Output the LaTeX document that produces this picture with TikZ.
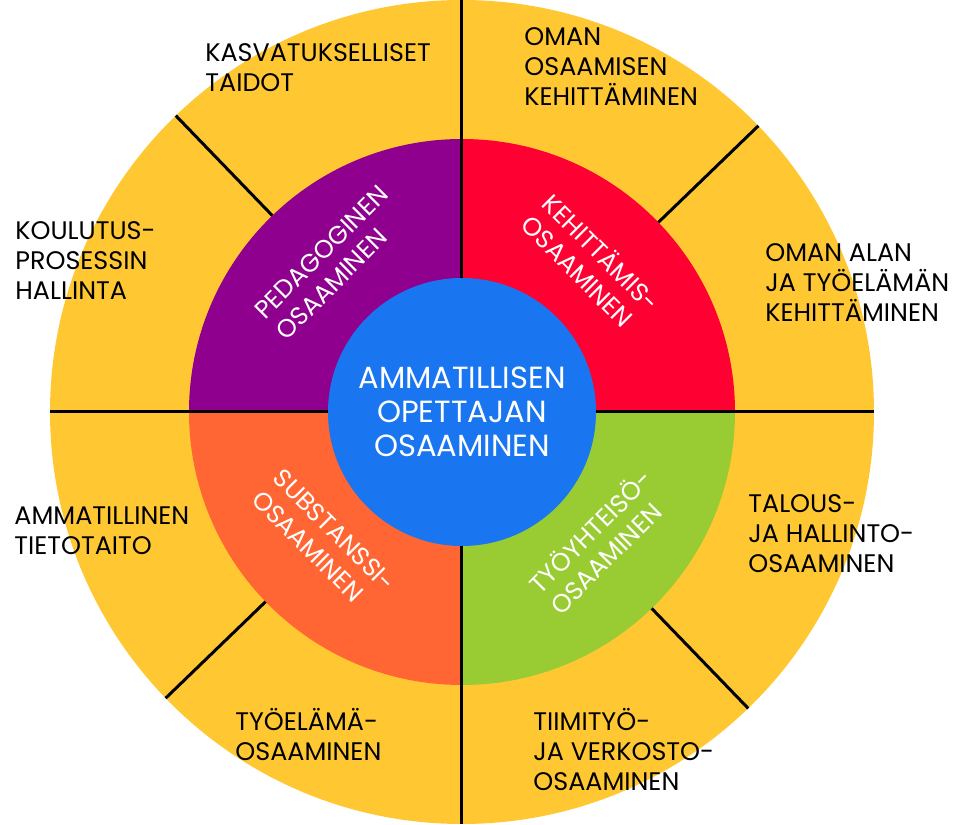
\documentclass[tikz,border=0pt]{standalone}
\usepackage{fontspec}
\setmainfont{Poppins}
\definecolor{keltainen}{RGB}{255,200,50}
\definecolor{violetti}{RGB}{143,0,143}
\definecolor{punainen}{RGB}{255,0,51}
\definecolor{oranssi}{RGB}{255,102,51}
\definecolor{vihrea}{RGB}{153,204,51}
\definecolor{sininen}{RGB}{25,118,240}
\tikzset{
    OUT/.style ={anchor=base west, align=left, inner sep=0pt, font=\fontsize{12.7}{15}\selectfont},
    MID/.style ={align=left, inner sep=0pt, text=white, font=\fontsize{12.6}{15}\selectfont},
    INN/.style ={circle, minimum size=134pt, inner sep=0pt, fill=sininen, text=white, align=center, font=\fontsize{15.3}{17}\selectfont},
    SEP/.style ={line width=1.5pt}}

\begin{document}
\begin{tikzpicture}[x=0.5pt,y=0.5pt]
        \useasboundingbox (-462,-413) rectangle (498,412);
        % outer ring and quarters
        \fill[keltainen] (0,0) circle (412);
        \fill[violetti] (0,0) -- (90:273) arc (90:180:273) -- cycle;
        \fill[oranssi] (0,0) -- (180:273) arc (180:270:273) -- cycle;
        \fill[vihrea] (0,0) -- (270:273) arc (270:360:273) -- cycle;
        \fill[punainen] (0,0) -- (0:273) arc (0:90:273) -- cycle;
        % dividing lines
        \coordinate (W) at (180:412);
        \coordinate (E) at (0:412);
        \coordinate (N) at (90:412);
        \coordinate (S) at (270:412);
        \coordinate (a1) at (134:273); \coordinate (a2) at (134:412);
        \coordinate (b1) at (44:273);  \coordinate (b2) at (44:412);
        \coordinate (c1) at (224:273); \coordinate (c2) at (224:412);
        \coordinate (d1) at (314:273); \coordinate (d2) at (314:412);
        \draw[SEP] (W) -- (E);
        \draw[SEP] (N) -- (S);
        \draw[SEP] (a1) -- (a2);
        \draw[SEP] (b1) -- (b2);
        \draw[SEP] (c1) -- (c2);
        \draw[SEP] (d1) -- (d2);
        % centre
        \node[INN] (keski) at (0,0) {AMMATILLISEN\\OPETTAJAN\\OSAAMINEN};
        % ring labels
        \node[MID, rotate=45] (ped) at (131:198) {PEDAGOGINEN\\OSAAMINEN};
        \node[MID, rotate=-45] (keh) at (49:198) {KEHITTÄMIS-\\OSAAMINEN};
        \node[MID, rotate=-45] (sub) at (223:189) {SUBSTANSSI-\\OSAAMINEN};
        \node[MID, rotate=45] (tyo) at (317:189) {TYÖYHTEISÖ-\\OSAAMINEN};
        % outer labels (at baseline of last line)
        \node[OUT] (kasv) at (-257,320) {KASVATUKSELLISET\\TAIDOT};
        \node[OUT] (oman) at (62,306) {OMAN\\OSAAMISEN\\KEHITTÄMINEN};
        \node[OUT] (koul) at (-447,112) {KOULUTUS-\\PROSESSIN\\HALLINTA};
        \node[OUT] (alan) at (303,90) {OMAN ALAN\\JA TYÖELÄMÄN\\KEHITTÄMINEN};
        \node[OUT] (ammt) at (-448,-143) {AMMATILLINEN\\TIETOTAITO};
        \node[OUT] (talo) at (286,-161) {TALOUS-\\JA HALLINTO-\\OSAAMINEN};
        \node[OUT] (tyel) at (-227,-348) {TYÖELÄMÄ-\\OSAAMINEN};
        \node[OUT] (tiim) at (71,-378) {TIIMITYÖ-\\JA VERKOSTO-\\OSAAMINEN};
    \end{tikzpicture}
\end{document}
